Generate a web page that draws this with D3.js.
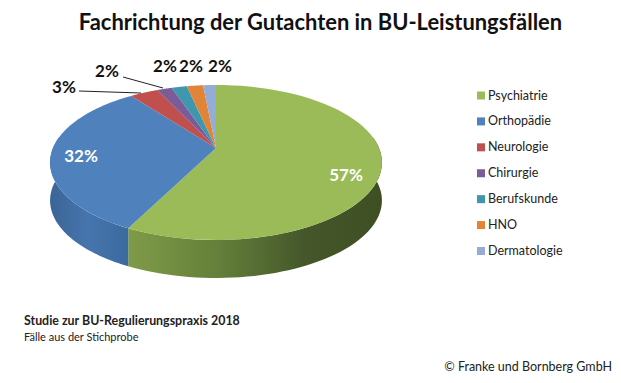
<!DOCTYPE html>
<html lang="de">
  <head>
    <meta charset="UTF-8" />
    <title>Fachrichtung der Gutachten</title>
    <script src="https://cdn.jsdelivr.net/npm/d3@7"></script>
    <style>
      body { margin:0; background:#fff; }
      svg { display:block; font-family:Lato, "Open Sans", sans-serif; }
    </style>
  </head>
  <body>
    <svg width="621" height="383"></svg>
    <script>
      // slice sizes, the labels show them rounded
      const categories = ["Psychiatrie","Orthopädie","Neurologie","Chirurgie","Berufskunde","HNO","Dermatologie"];
      const shares = [57.4,32.4,3.3,1.7,1.8,1.9,1.5];
      const colors = ["#9bbb59","#4f81bd","#c0504d","#7a5c99","#3f97ae","#e08538","#95acd6"];

      const svg = d3.select("svg");

      // disc seen in perspective: unit circle -> screen, the centre sits above the ellipse middle
      const cx = 216, cy = 148, rx = 163, k = 0.187, py = -47.1, depth = 38;
      const project = (a, r = 1) => {
        const x = r * Math.sin(a), y = r * Math.cos(a), w = 1 + k * y;
        return [cx + rx * x / w, (cy + py * y) / w];
      };

      const slices = d3.pie().sort(null)(shares);
      const defs = svg.append("defs");

      // side wall shading, left to right, in screen units
      const wall = [
        {id:"wallGreen", stops:[[0,"#7f9b48"],[0.35,"#64803a"],[0.7,"#44562a"],[1,"#3f4f24"]], x1:128, x2:383},
        {id:"wallBlue", stops:[[0,"#3c6596"],[0.5,"#4675ad"],[1,"#3a6a9f"]], x1:50, x2:128}
      ];
      wall.forEach(g => {
        const lg = defs.append("linearGradient").attr("id", g.id)
          .attr("gradientUnits","userSpaceOnUse").attr("x1",g.x1).attr("x2",g.x2).attr("y1",0).attr("y2",0);
        lg.selectAll("stop").data(g.stops).enter().append("stop")
          .attr("offset", d => d[0]).attr("stop-color", d => d[1]);
      });

      const line = d3.line();
      const sample = (a0, a1) => d3.range(61).map(i => a0 + (a1 - a0) * i / 60);

      // only the front half of the rim shows a wall, that is green and blue here
      const front = [
        {from:Math.PI * 0.45, to:slices[0].endAngle, fill:"url(#wallGreen)"},
        {from:slices[1].startAngle, to:Math.PI * 1.55, fill:"url(#wallBlue)"}
      ];
      svg.append("g").selectAll("path").data(front).enter().append("path")
        .attr("fill", d => d.fill)
        .attr("d", d => {
          const top = sample(d.from, d.to).map(a => project(a));
          const bottom = top.map(p => [p[0], p[1] + depth]).reverse();
          return line(top.concat(bottom)) + "Z";
        });

      // top surface
      svg.append("g").selectAll("path").data(slices).enter().append("path")
        .attr("fill", (d, i) => colors[i])
        .attr("d", d => line([[cx, cy]].concat(sample(d.startAngle, d.endAngle).map(a => project(a)))) + "Z");

      // title
      svg.append("text").attr("x",320.5).attr("y",30).attr("text-anchor","middle")
        .attr("font-size",21.9).attr("font-weight",700).attr("fill","#111")
        .text("Fachrichtung der Gutachten in BU-Leistungsfällen");

      // value labels
      const labelPos = [[346,181,"#fff"],[81,162,"#fff"],[64,93,"#111"],[107,77,"#111"],[165,72,"#111"],[191,72,"#111"],[220,72,"#111"]];
      svg.append("g").selectAll("text").data(shares).enter().append("text")
        .attr("x", (d, i) => labelPos[i][0]).attr("y", (d, i) => labelPos[i][1])
        .attr("text-anchor","middle").attr("font-size",17).attr("font-weight",700)
        .attr("fill", (d, i) => labelPos[i][2])
        .text(d => Math.round(d) + "%");

      // leader lines
      const leaders = [[[79,91],[141,93]],[[123,77],[163,88]]];
      svg.append("g").selectAll("path").data(leaders).enter().append("path")
        .attr("d", d => line(d)).attr("fill","none").attr("stroke","#222").attr("stroke-width",1);

      // legend
      const legendY = d3.scalePoint().domain(categories).range([95.5,251]);
      const legend = svg.append("g").selectAll("g").data(categories).enter().append("g")
        .attr("transform", d => `translate(477,${legendY(d)})`);
      legend.append("rect").attr("x",0).attr("y",-4).attr("width",8).attr("height",8)
        .attr("fill", (d, i) => colors[i]);
      legend.append("text").attr("x",11).attr("y",4).attr("font-size",12.5).attr("fill","#222").text(d => d);

      // notes
      svg.append("text").attr("x",24).attr("y",325).attr("font-size",12.4).attr("font-weight",700).attr("fill","#222")
        .text("Studie zur BU-Regulierungspraxis 2018");
      svg.append("text").attr("x",24).attr("y",341).attr("font-size",11).attr("fill","#222")
        .text("Fälle aus der Stichprobe");
      svg.append("text").attr("x",612).attr("y",371).attr("text-anchor","end").attr("font-size",12.5).attr("fill","#222")
        .text("© Franke und Bornberg GmbH");
    </script>
  </body>
</html>
